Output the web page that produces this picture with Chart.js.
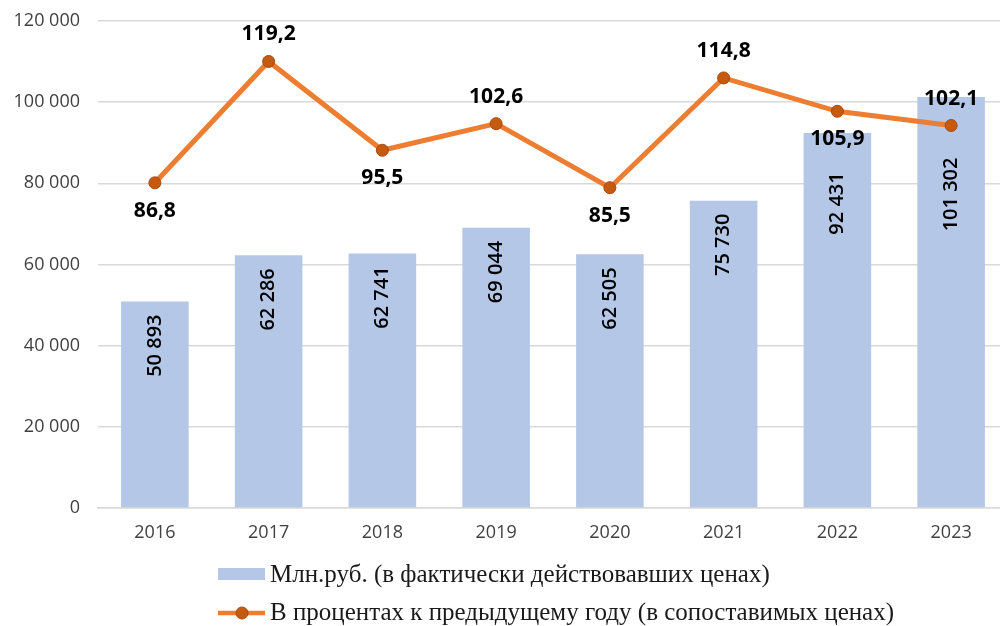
<!DOCTYPE html>
<html>
<head>
<meta charset="utf-8">
<script src="https://cdn.jsdelivr.net/npm/chart.js@4.4.1/dist/chart.umd.min.js"></script>
<style>
    html, body { margin: 0; padding: 0; background: #fff; overflow: hidden; }
    #wrap { position: relative; width: 1015px; height: 626px; }
</style>
</head>
<body>
<div id="wrap"><canvas id="econChart"></canvas></div>
<script>
// Data
const years = ['2016', '2017', '2018', '2019', '2020', '2021', '2022', '2023'];
const mlnRub = [50893, 62286, 62741, 69044, 62505, 75730, 92431, 101302];
const pctPrevYear = [86.8, 119.2, 95.5, 102.6, 85.5, 114.8, 105.9, 102.1];
const yTicks = [0, 20000, 40000, 60000, 80000, 100000, 120000];
const legendLabels = [
    'Млн.руб. (в фактически действовавших ценах)',
    'В процентах к предыдущему году (в сопоставимых ценах)'
];

const BAR_COLOR = '#b4c7e7';
const LINE_COLOR = '#ed7d31';
const MARKER_FILL = '#c55a11';
const MARKER_BORDER = '#a9490c';

function groupThousands(v) {
    return String(v).replace(/\B(?=(\d{3})+(?!\d))/g, ' ');
}

// Labels on bars and line points, plus the legend underneath
const labelPlugin = {
    id: 'labelPlugin',
    afterDatasetsDraw(chart) {
        const ctx = chart.ctx;
        const barMeta = chart.getDatasetMeta(0);
        const lineMeta = chart.getDatasetMeta(1);

        ctx.save();
        ctx.fillStyle = '#000';

        // line labels: alternate below / above
        ctx.font = 'bold 21px "Open Sans"';
        ctx.textAlign = 'center';
        ctx.textBaseline = 'middle';
        lineMeta.data.forEach((pt, i) => {
            const below = i % 2 === 0;
            const y = below ? pt.y + 28 : pt.y - 27;
            ctx.fillText(pctPrevYear[i].toFixed(1).replace('.', ','), pt.x, y);
        });

        // bar labels, rotated, near the top of each bar
        ctx.font = '600 20px "Open Sans"';
        barMeta.data.forEach((bar, i) => {
            const pt = lineMeta.data[i];
            const below = i % 2 === 0;
            const obstacle = below ? pt.y + 35 : pt.y + 6;
            let start = bar.y + 13;
            if (obstacle > bar.y - 20 && obstacle + 32 > start) start = obstacle + 26;
            ctx.save();
            ctx.translate(bar.x, start);
            ctx.rotate(-Math.PI / 2);
            ctx.textAlign = 'right';
            ctx.textBaseline = 'middle';
            ctx.fillText(groupThousands(mlnRub[i]), 0, 0);
            ctx.restore();
        });
        ctx.restore();
    },
    afterDraw(chart) {
        const ctx = chart.ctx;
        ctx.save();
        // legend row 1: bar swatch
        ctx.fillStyle = BAR_COLOR;
        ctx.fillRect(218, 568, 47, 12);
        // legend row 2: line with marker
        ctx.strokeStyle = LINE_COLOR;
        ctx.lineWidth = 4.5;
        ctx.beginPath();
        ctx.moveTo(218, 613);
        ctx.lineTo(265, 613);
        ctx.stroke();
        ctx.beginPath();
        ctx.arc(242, 613, 6, 0, Math.PI * 2);
        ctx.fillStyle = MARKER_FILL;
        ctx.fill();
        ctx.lineWidth = 1;
        ctx.strokeStyle = MARKER_BORDER;
        ctx.stroke();

        ctx.fillStyle = '#1a1a1a';
        ctx.font = '25px "Liberation Serif"';
        ctx.textAlign = 'left';
        ctx.textBaseline = 'alphabetic';
        ctx.fillText(legendLabels[0], 270, 582);
        ctx.fillText(legendLabels[1], 270, 620);
        ctx.restore();
    }
};

new Chart(document.getElementById('econChart'), {
    type: 'bar',
    data: {
        labels: years,
        datasets: [
            {
                label: legendLabels[0],
                data: mlnRub,
                backgroundColor: BAR_COLOR,
                barPercentage: 0.594,
                categoryPercentage: 1,
                yAxisID: 'y',
                order: 2
            },
            {
                type: 'line',
                label: legendLabels[1],
                data: pctPrevYear,
                borderColor: LINE_COLOR,
                borderWidth: 5,
                pointRadius: 6,
                pointBackgroundColor: MARKER_FILL,
                pointBorderColor: MARKER_BORDER,
                pointBorderWidth: 1,
                tension: 0,
                yAxisID: 'y1',
                order: 1
            }
        ]
    },
    options: {
        responsive: true,
        maintainAspectRatio: false,
        animation: false,
        layout: {
            padding: { top: 21, right: 1, bottom: 78, left: 0 }
        },
        plugins: {
            legend: { display: false },
            tooltip: { enabled: false }
        },
        scales: {
            x: {
                grid: { display: false, drawTicks: false },
                border: { color: '#d9d9d9', width: 1.5 },
                ticks: {
                    color: '#404040',
                    font: { family: "'Open Sans'", size: 18 },
                    padding: 14
                },
                afterFit: scale => { scale.height = 40; }
            },
            y: {
                min: 0,
                max: 120000,
                afterBuildTicks: scale => { scale.ticks = yTicks.map(v => ({ value: v })); },
                grid: { color: '#d9d9d9', lineWidth: 1.5, drawTicks: false },
                border: { display: false },
                ticks: {
                    color: '#404040',
                    font: { family: "'Open Sans'", size: 18 },
                    padding: 18,
                    callback: value => groupThousands(value)
                },
                afterFit: scale => {
                    scale.width = 98;
                    scale.paddingTop = 0;
                    scale.paddingBottom = 0;
                }
            },
            y1: {
                display: false,
                min: 0,
                max: 130
            }
        }
    },
    plugins: [labelPlugin]
});
</script>
</body>
</html>
